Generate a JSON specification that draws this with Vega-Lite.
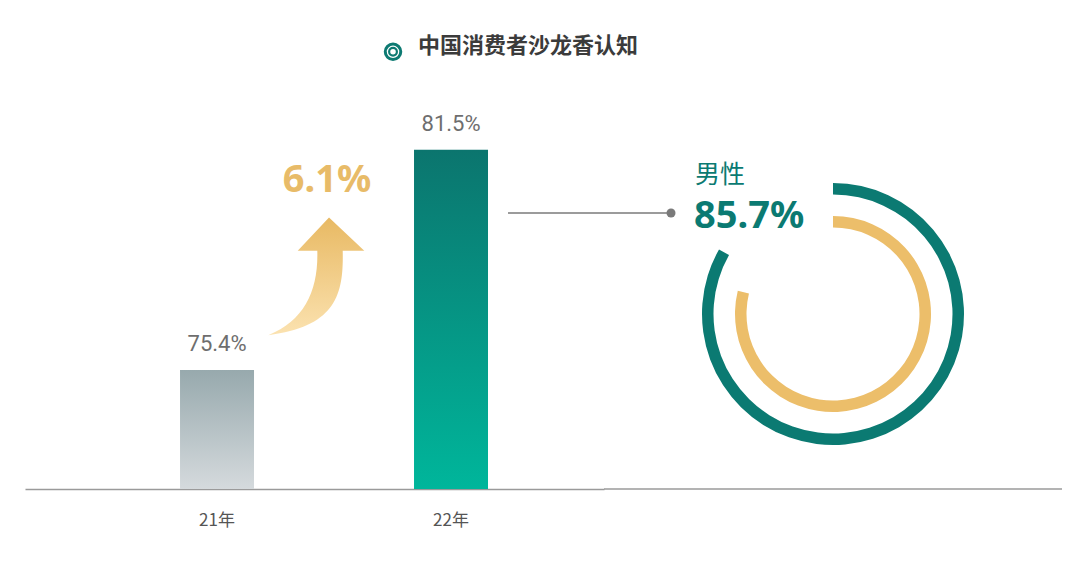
{
  "$schema": "https://vega.github.io/schema/vega-lite/v6.json",
  "description": "中国消费者沙龙香认知: awareness 21年 vs 22年, with male share ring.",
  "background": "white",
  "padding": {"left": 25, "right": 18, "top": 35, "bottom": 42},
  "spacing": 0,
  "bounds": "flush",
  "title": {
    "text": "中国消费者沙龙香认知",
    "font": "Noto Sans CJK SC",
    "fontSize": 22,
    "fontWeight": "bold",
    "color": "#3b3b3b",
    "anchor": "middle",
    "dx": -16,
    "offset": -20
  },
  "datasets": {
    "awareness": [
      {"year": "21年", "rate": 0.754},
      {"year": "22年", "rate": 0.815}
    ],
    "growth": [
      {"change": 0.061}
    ],
    "rings": [
      {"ring": "outer", "share": 0.832},
      {"ring": "inner", "share": 0.788}
    ],
    "male": [
      {"label": "男性", "rate": 0.857}
    ]
  },
  "hconcat": [
    {
      "width": 579,
      "height": 350,
      "layer": [
        {
          "data": {"name": "awareness"},
          "transform": [{"filter": "datum.year === '21年'"}],
          "mark": {
            "type": "bar",
            "color": {
              "gradient": "linear", "x1": 0, "y1": 0, "x2": 0, "y2": 1,
              "stops": [
                {"offset": 0, "color": "#97a9ad"},
                {"offset": 1, "color": "#d5dadd"}
              ]
            }
          },
          "encoding": {
            "x": {
              "field": "year",
              "type": "nominal",
              "sort": null,
              "title": null,
              "scale": {"domain": ["21年", "22年"], "paddingInner": 0.6838, "paddingOuter": 0.5791, "align": 0.572}
            },
            "y": {
              "field": "rate",
              "type": "quantitative",
              "scale": {"domain": [0.721, 0.818], "zero": false, "nice": false, "clamp": true}
            }
          }
        },
        {
          "data": {"name": "awareness"},
          "transform": [{"filter": "datum.year === '22年'"}],
          "mark": {
            "type": "bar",
            "color": {
              "gradient": "linear", "x1": 0, "y1": 0, "x2": 0, "y2": 1,
              "stops": [
                {"offset": 0, "color": "#0b756e"},
                {"offset": 1, "color": "#00b69b"}
              ]
            }
          },
          "encoding": {
            "x": {"field": "year", "type": "nominal", "sort": null, "title": null},
            "y": {"field": "rate", "type": "quantitative"}
          }
        },
        {
          "data": {"name": "awareness"},
          "mark": {
            "type": "text",
            "baseline": "alphabetic",
            "dy": -19,
            "font": "Roboto",
            "fontSize": 22,
            "color": "#6e6e6e"
          },
          "encoding": {
            "x": {"field": "year", "type": "nominal", "sort": null, "title": null},
            "y": {"field": "rate", "type": "quantitative"},
            "text": {"field": "rate", "type": "quantitative", "format": ".1%"}
          }
        },
        {
          "data": {"name": "growth"},
          "mark": {
            "type": "point",
            "shape": "M 0.221 -1 L 0.821 -0.434 L 0.454 -0.434 C 0.47 0.3 0.35 0.85 -0.811 1 C -0.2 0.75 0.04 0.25 0.022 -0.434 L -0.311 -0.434 Z",
            "filled": true,
            "opacity": 1,
            "strokeWidth": 0,
            "size": 13830,
            "xOffset": 99,
            "yOffset": 126.5,
            "color": {
              "gradient": "linear", "x1": 0, "y1": 0, "x2": 0, "y2": 1,
              "stops": [
                {"offset": 0, "color": "#e8b963"},
                {"offset": 1, "color": "#fbe2b0"}
              ]
            }
          },
          "encoding": {
            "x": {"datum": "21年"},
            "y": {"datum": 0.815}
          }
        },
        {
          "data": {"name": "growth"},
          "mark": {
            "type": "text",
            "baseline": "alphabetic",
            "align": "center",
            "dx": 110,
            "dy": 42,
            "font": "Noto Sans",
            "fontWeight": "bold",
            "fontSize": 38,
            "color": "#e8bb68"
          },
          "encoding": {
            "x": {"datum": "21年"},
            "y": {"datum": 0.815},
            "text": {"field": "change", "type": "quantitative", "format": ".1%"}
          }
        },
        {
          "data": {"name": "growth"},
          "mark": {"type": "rule", "color": "#7a7a7a", "strokeWidth": 1.5, "xOffset": 57, "x2Offset": 220},
          "encoding": {
            "x": {"datum": "22年"},
            "x2": {"datum": "22年"},
            "y": {"datum": 0.7975}
          }
        },
        {
          "data": {"name": "growth"},
          "mark": {"type": "point", "shape": "circle", "filled": true, "opacity": 1, "color": "#7a7a7a", "size": 81, "xOffset": 220},
          "encoding": {
            "x": {"datum": "22年"},
            "y": {"datum": 0.7975}
          }
        },
        {
          "data": {"name": "growth"},
          "mark": {"type": "point", "shape": "circle", "filled": false, "opacity": 1, "color": "#0d7a72", "strokeWidth": 3, "size": 240, "xOffset": 176, "yOffset": -98},
          "encoding": {
            "x": {"datum": "21年"},
            "y": {"datum": 0.815}
          }
        },
        {
          "data": {"name": "growth"},
          "mark": {"type": "point", "shape": "circle", "filled": false, "opacity": 1, "color": "#0d7a72", "strokeWidth": 2.2, "size": 60, "xOffset": 176, "yOffset": -98},
          "encoding": {
            "x": {"datum": "21年"},
            "y": {"datum": 0.815}
          }
        }
      ]
    },
    {
      "width": 458,
      "height": 350,
      "layer": [
        {
          "data": {"values": [{"base": 0}]},
          "mark": {"type": "rule", "color": "#9a9a9a", "strokeWidth": 1.5},
          "encoding": {
            "y": {"field": "base", "type": "quantitative", "scale": {"domain": [0, 1]}, "axis": null}
          }
        },
        {
          "data": {"name": "rings"},
          "transform": [{"filter": "datum.ring === 'outer'"}],
          "mark": {"type": "arc", "radius": 131, "radius2": 119.5, "color": "#0b7a72"},
          "encoding": {
            "theta": {"field": "share", "type": "quantitative", "scale": {"domain": [0, 1]}}
          }
        },
        {
          "data": {"name": "rings"},
          "transform": [{"filter": "datum.ring === 'inner'"}],
          "mark": {"type": "arc", "radius": 98, "radius2": 86.5, "color": "#ecbe6a"},
          "encoding": {
            "theta": {"field": "share", "type": "quantitative", "scale": {"domain": [0, 1]}}
          }
        },
        {
          "data": {"name": "male"},
          "mark": {
            "type": "text",
            "align": "left",
            "baseline": "middle",
            "dx": -138,
            "dy": -139,
            "font": "Noto Sans CJK SC",
            "fontSize": 25,
            "color": "#0b7a72"
          },
          "encoding": {
            "text": {"field": "label", "type": "nominal"}
          }
        },
        {
          "data": {"name": "male"},
          "mark": {
            "type": "text",
            "align": "left",
            "baseline": "alphabetic",
            "dx": -139,
            "dy": -86,
            "font": "Noto Sans",
            "fontWeight": "bold",
            "fontSize": 38,
            "color": "#0b7a72"
          },
          "encoding": {
            "text": {"field": "rate", "type": "quantitative", "format": ".1%"}
          }
        }
      ]
    }
  ],
  "config": {
    "view": {"stroke": null},
    "font": "Noto Sans CJK SC",
    "axisY": {"disable": true},
    "axisX": {
      "labelAngle": 0,
      "ticks": false,
      "domainColor": "#9a9a9a",
      "domainWidth": 1.5,
      "labelFont": "Noto Sans CJK SC",
      "labelFontSize": 17,
      "labelColor": "#555555",
      "labelPadding": 23,
      "titleOpacity": 0
    }
  }
}
